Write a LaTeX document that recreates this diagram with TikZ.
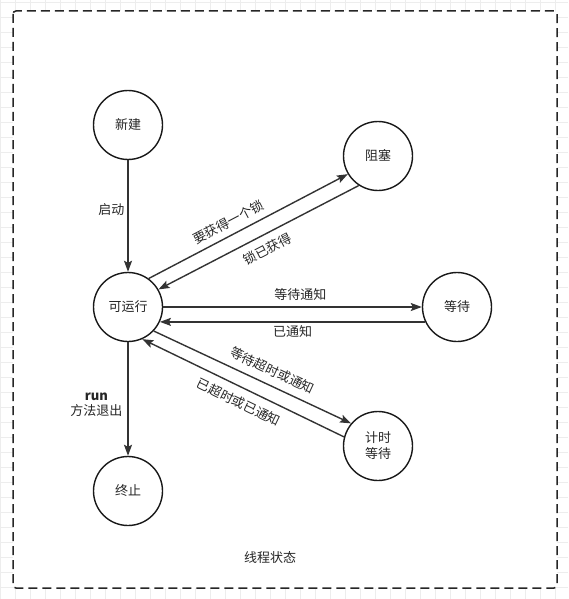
\documentclass[tikz,border=0pt]{standalone}
\usepackage{fontspec}
\setmainfont{Noto Sans CJK SC}
\usetikzlibrary{arrows.meta}

\begin{document}
\begin{tikzpicture}[x=1pt,y=-1pt,
  state/.style={circle,draw=black!90,line width=1.4pt,minimum size=69pt,inner sep=0pt,text=black!85,font=\fontsize{13}{16}\selectfont},
  trans/.style={draw=black!80,line width=1.4pt,-{Stealth[length=11pt,width=8pt,inset=2pt]}},
  lbl/.style={font=\fontsize{13}{15}\selectfont,text=black!85,inner sep=2pt}]
\useasboundingbox (0,0) rectangle (568,599);
\foreach \i in {0,...,37} \draw[black!7] (15*\i,0) -- (15*\i,599);
\foreach \j in {0,...,39} \draw[black!7] (0,2+15*\j) -- (568,2+15*\j);
\filldraw[fill=white,draw=black!85,line width=1.5pt,dash pattern=on 9pt off 5pt,rounded corners=3pt] (13,11) rectangle (557,588);

\node[state] (new) at (128,125) {新建};
\node[state] (blk) at (378,156) {阻塞};
\node[state] (run) at (128,307) {可运行};
\node[state] (wait) at (457,307) {等待};
\node[state,align=center] (twait) at (378,446) {计时\\等待};
\node[state] (term) at (128,491) {终止};

\draw[trans] (new) -- node[lbl,left=1pt,pos=0.44]{启动} (run);
\draw[trans] (run.54) -- node[lbl,above=4pt,sloped,pos=0.43]{要获得一个锁} (blk.211);
\draw[trans] (blk.237) -- node[lbl,below=6pt,sloped,pos=0.49]{锁已获得} (run.30);
\draw[trans] (run) -- node[lbl,above=4pt,pos=0.53]{等待通知} (wait);
\draw[trans] (wait.205) -- node[lbl,below=1pt]{已通知} (run.-25);
\draw[trans] (run.317) -- node[lbl,above=6pt,sloped,pos=0.57]{等待超时或通知} (twait.140);
\draw[trans] (twait.165) -- node[lbl,below=6pt,sloped,pos=0.49]{已超时或已通知} (run.294);
\draw[trans] (run) -- node[lbl,left=3pt,pos=0.55,align=center]{\textbf{run}\\方法退出} (term);
\node[lbl] (title) at (270,558) {线程状态};
\end{tikzpicture}
\end{document}
